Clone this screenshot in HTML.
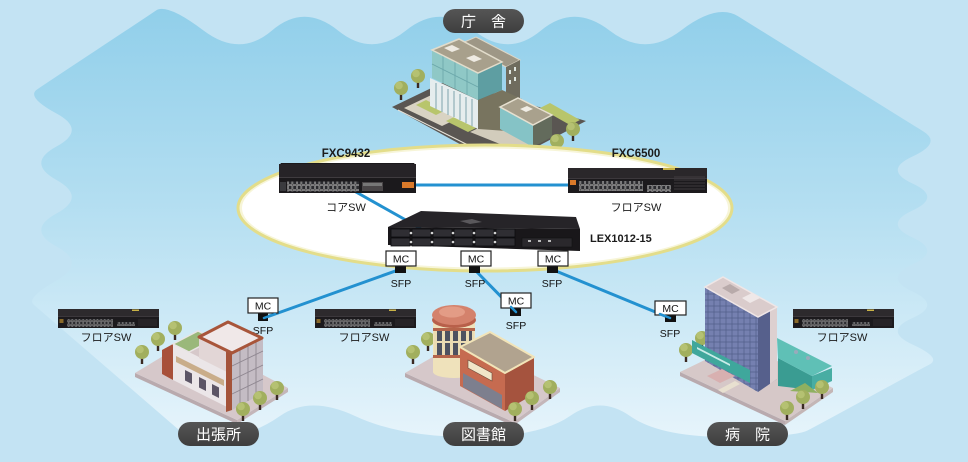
<!DOCTYPE html>
<html><head><meta charset="utf-8">
<style>
html,body{margin:0;padding:0;background:#c3e3f3;}
svg{display:block;}
text{font-family:"Liberation Sans","Noto Sans CJK JP",sans-serif;}
</style></head><body>
<svg width="968" height="462" viewBox="0 0 968 462" xmlns="http://www.w3.org/2000/svg">
<defs>
<linearGradient id="blob" x1="0" y1="0" x2="0" y2="1">
 <stop offset="0" stop-color="#91cfea"/>
 <stop offset="0.45" stop-color="#b3def1"/>
 <stop offset="1" stop-color="#e6f4fb"/>
</linearGradient>
<linearGradient id="pill" x1="0" y1="0" x2="0" y2="1">
 <stop offset="0" stop-color="#555"/>
 <stop offset="1" stop-color="#3e3e3e"/>
</linearGradient>
<pattern id="ports" width="4.5" height="5" patternUnits="userSpaceOnUse">
 <rect x="0.4" y="0.5" width="3.5" height="3.8" fill="#2b2b2f" stroke="#b5b5b5" stroke-width="0.6"/>
</pattern>
<pattern id="ports2" width="3.6" height="4" patternUnits="userSpaceOnUse">
 <rect x="0.3" y="0.4" width="2.8" height="3" fill="#2b2b2f" stroke="#9a9a9a" stroke-width="0.5"/>
</pattern>
<pattern id="grid1" width="6" height="6" patternUnits="userSpaceOnUse">
 <rect width="6" height="6" fill="none" stroke="#55608c" stroke-width="0.8"/>
</pattern>
<g id="tree"><rect x="-1.2" y="2" width="2.4" height="10" fill="#3b2a22"/><circle r="7" fill="#a1af5e"/><circle cx="-2" cy="-2.5" r="3.8" fill="#bac677" opacity="0.8"/></g>
<g id="fsw">
 <rect x="0" y="0" width="101" height="19" fill="#1c1a1d"/>
 <rect x="0" y="0" width="101" height="7" fill="#2d2a2d"/>
 <rect x="0" y="7" width="101" height="0.8" fill="#444044"/>
 <rect x="1.5" y="10" width="4" height="4" fill="#8a6a2a"/>
 <rect x="9" y="10" width="46" height="8" fill="url(#ports2)"/>
 <rect x="59" y="13" width="18" height="4" fill="url(#ports2)"/>
 <rect x="80" y="10" width="19" height="7" fill="#262326"/>
 <rect x="74" y="0.5" width="7" height="1.5" fill="#c9b347"/>
</g>
</defs>

<rect width="968" height="462" fill="#c3e3f3"/>
<path fill="url(#blob)" d="M156,10.5 Q167,3 203.5,30.5 Q240,58 272,30.5 Q304,3 338,30.5 Q372,58 406,30.5 Q440,3 474,30.5 Q508,58 541,30.5 Q574,3 609.5,30.5 Q645,58 681,30.5 Q717,3 738.5,16.5 Q760,30 832.5,75 Q905,120 923.5,131.5 Q942,143 912.5,156.5 Q883,170 912.5,183.5 Q942,197 912.5,210.5 Q883,224 912.5,237.5 Q942,251 912.5,264.5 Q883,278 912.5,291.5 Q942,305 912.5,318 Q883,331 912.5,344.5 Q942,358 929.5,364.5 Q917,371 868.5,397.5 Q820,424 807.5,430.5 Q795,437 727.5,437 Q660,437 630,416 Q600,395 570,416 Q540,437 470,437 Q400,437 355,416 Q310,395 280,416 Q250,437 218.5,437 Q187,437 179.5,430.5 Q172,424 106.5,367.5 Q41,311 33.5,304.5 Q26,298 56.5,280.5 Q87,263 56.5,246.5 Q26,230 56.5,213.5 Q87,197 56.5,180 Q26,163 56.5,146.5 Q87,130 56.5,113.5 Q26,97 37,89.5 Q48,82 96.5,50 Q145,18 156,10.5 Z"/>

<!-- 庁舎 building -->
<g>
 <polygon points="392,107 448,80 586,121 500,166" fill="#5a5652"/>
 <polygon points="404,108 444,89 482,107 442,126" fill="#d9d3c3"/>
 <polygon points="416,105 426,100 446,110 436,115" fill="#b8c56c"/>
 <polygon points="446,121 454,117 476,128 468,132" fill="#b8c56c"/>
 <polygon points="470,132 500,118 545,140 520,152" fill="#d2ccbc"/>
 <polygon points="540,108 550,103 580,120 570,125" fill="#b8c56c"/>
 <polyline points="398,110 440,131 470,146" fill="none" stroke="#e8e4da" stroke-width="1"/>
 <!-- back block -->
 <polygon points="462,43 476,37 520,60 506,67" fill="#9e9786" stroke="#ddd6c6" stroke-width="1"/>
 <polygon points="506,67 520,60 520,100 506,108" fill="#6f6c5e"/>
 <rect x="509" y="70" width="2" height="4" fill="#dfe6e0"/><rect x="514" y="67" width="2" height="4" fill="#dfe6e0"/>
 <rect x="509" y="80" width="2" height="4" fill="#dfe6e0"/><rect x="514" y="77" width="2" height="4" fill="#dfe6e0"/>
 <!-- lower white -->
 <polygon points="430,78 478,100 478,129 430,106" fill="#e6edee"/>
 <g stroke="#8fb0b7" stroke-width="1.2">
  <line x1="436" y1="83" x2="436" y2="109"/><line x1="442" y1="86" x2="442" y2="112"/><line x1="448" y1="89" x2="448" y2="115"/>
  <line x1="454" y1="91" x2="454" y2="117"/><line x1="460" y1="94" x2="460" y2="120"/><line x1="466" y1="97" x2="466" y2="123"/><line x1="472" y1="99" x2="472" y2="126"/>
 </g>
 <!-- connector -->
 <polygon points="478,100 502,90 522,99 522,132 478,129" fill="#78745f"/>
 <!-- glass tower -->
 <polygon points="432,50 478,73 478,100 432,78" fill="#8fc8c6"/>
 <g stroke="#6aa6a9" stroke-width="0.8">
  <line x1="443" y1="55" x2="443" y2="83"/><line x1="455" y1="61" x2="455" y2="89"/><line x1="467" y1="67" x2="467" y2="95"/>
  <line x1="432" y1="64" x2="478" y2="87"/>
 </g>
 <polygon points="478,73 502,62 502,90 478,100" fill="#5e9ea2"/>
 <polygon points="432,50 459,39 502,62 478,73" fill="#a8a08c" stroke="#e2dccb" stroke-width="1.5"/>
 <polygon points="444,48 452,45 460,49 452,52" fill="#eeeae2"/>
 <polygon points="466,58 474,55 482,59 474,62" fill="#eeeae2"/>
 <!-- annex -->
 <polygon points="500,107 533,125 533,147 500,129" fill="#85c3c6"/>
 <polygon points="533,125 552,115 552,137 533,147" fill="#636b5c"/>
 <polygon points="500,107 518,98 552,115 533,125" fill="#a9a18d" stroke="#e6e0d0" stroke-width="1.5"/>
 <polygon points="520,109 527,106 533,109 526,112" fill="#f0ede5"/>
 <use href="#tree" x="401" y="88"/>
 <use href="#tree" x="418" y="76"/>
 <use href="#tree" x="573" y="129"/>
 <use href="#tree" x="557" y="141"/>
</g>

<!-- ellipse -->
<ellipse cx="485" cy="208" rx="247" ry="63" fill="#f7f5d8" stroke="#e3dd8a" stroke-width="3"/>
<ellipse cx="485" cy="208" rx="243" ry="59.5" fill="#ffffff"/>

<!-- lines -->
<g stroke="#2391d0" stroke-width="3" stroke-linecap="round">
 <line x1="416" y1="185" x2="568" y2="185"/>
 <line x1="356" y1="192" x2="420" y2="228"/>
 <line x1="401" y1="269" x2="264" y2="318"/>
 <line x1="474" y1="269" x2="516" y2="312"/>
 <line x1="551" y1="269" x2="670" y2="318"/>
</g>

<!-- FXC9432 -->
<g>
 <polygon points="281,163 414,163 416,166 416,193 279,193 279,166" fill="#1b191c"/>
 <rect x="279" y="164" width="137" height="13" fill="#262327"/>
 <rect x="279" y="177" width="137" height="1" fill="#3f3b3f"/>
 <rect x="280" y="182" width="6" height="9" fill="#3a3a3e"/>
 <rect x="287" y="181.5" width="72" height="10" fill="url(#ports)"/>
 <rect x="362" y="182" width="21" height="9" fill="#4a4648"/>
 <rect x="363" y="183" width="19" height="3" fill="#777"/>
 <rect x="402" y="182" width="12" height="6" fill="#d9792a"/>
</g>
<text x="346" y="157" font-size="11.5" font-weight="bold" text-anchor="middle" fill="#1b1b1b">FXC9432</text>
<text x="346" y="211" font-size="11" text-anchor="middle" fill="#1b1b1b">コアSW</text>

<!-- FXC6500 -->
<g>
 <rect x="568" y="168" width="139" height="25" fill="#1c1a1d"/>
 <rect x="568" y="168" width="139" height="10" fill="#2a272a"/>
 <rect x="568" y="178" width="139" height="0.8" fill="#444044"/>
 <rect x="663" y="168" width="12" height="2" fill="#c9b347"/>
 <rect x="570" y="180" width="6" height="5" fill="#d9792a"/>
 <rect x="579" y="181" width="64" height="10" fill="url(#ports)"/>
 <rect x="647" y="185" width="24" height="7" fill="url(#ports)"/>
 <g stroke="#4a4649" stroke-width="0.8">
  <line x1="674" y1="177" x2="705" y2="177"/><line x1="674" y1="180" x2="705" y2="180"/><line x1="674" y1="183" x2="705" y2="183"/><line x1="674" y1="186" x2="705" y2="186"/><line x1="674" y1="189" x2="705" y2="189"/>
 </g>
</g>
<text x="636" y="157" font-size="11.5" font-weight="bold" text-anchor="middle" fill="#1b1b1b">FXC6500</text>
<text x="636" y="211" font-size="11" text-anchor="middle" fill="#1b1b1b">フロアSW</text>

<!-- LEX1012-15 -->
<g>
 <polygon points="388,227 421,211 576,217 580,229" fill="#262428"/>
 <polygon points="388,227 580,229 580,251 388,245" fill="#19171a"/>
 <polygon points="460,221 472,219 482,222 470,224" fill="#5a585c"/>
 <g fill="#2f2e33" stroke="#0c0c0e" stroke-width="0.8">
  <rect x="391" y="229" width="19" height="8"/><rect x="412" y="229" width="19" height="8"/><rect x="433" y="229" width="19" height="8"/><rect x="454" y="229" width="19" height="8"/><rect x="475" y="229" width="19" height="8"/><rect x="496" y="229" width="19" height="8"/>
  <rect x="391" y="238" width="19" height="8"/><rect x="412" y="238" width="19" height="8"/><rect x="433" y="238" width="19" height="8"/><rect x="454" y="238" width="19" height="8"/><rect x="475" y="238" width="19" height="8"/><rect x="496" y="238" width="19" height="8"/>
 </g>
 <g fill="#d5d5d5">
  <circle cx="411" cy="233" r="1.3"/><circle cx="432" cy="233" r="1.3"/><circle cx="453" cy="233" r="1.3"/><circle cx="474" cy="233" r="1.3"/><circle cx="495" cy="233" r="1.3"/>
  <circle cx="411" cy="242" r="1.3"/><circle cx="432" cy="242" r="1.3"/><circle cx="453" cy="242" r="1.3"/><circle cx="474" cy="242" r="1.3"/><circle cx="495" cy="242" r="1.3"/>
 </g>
 <rect x="522" y="238" width="50" height="9" fill="#2a282c" stroke="#111" stroke-width="0.6"/>
 <rect x="528" y="240" width="3" height="2" fill="#bbb"/><rect x="538" y="240" width="3" height="2" fill="#bbb"/><rect x="548" y="240" width="3" height="2" fill="#bbb"/>
</g>
<text x="590" y="242" font-size="11" font-weight="bold" fill="#1b1b1b">LEX1012-15</text>

<!-- MC boxes -->
<g font-size="10.5" text-anchor="middle" fill="#111">
 <rect x="395" y="266" width="11" height="7" fill="#111"/>
 <rect x="386" y="251" width="30" height="15" fill="#fff" stroke="#222" stroke-width="1.2"/>
 <text x="401" y="262.5">MC</text><text x="401" y="287">SFP</text>

 <rect x="469" y="266" width="11" height="7" fill="#111"/>
 <rect x="461" y="251" width="30" height="15" fill="#fff" stroke="#222" stroke-width="1.2"/>
 <text x="476" y="262.5">MC</text><text x="475" y="287">SFP</text>

 <rect x="547" y="266" width="11" height="7" fill="#111"/>
 <rect x="538" y="251" width="30" height="15" fill="#fff" stroke="#222" stroke-width="1.2"/>
 <text x="553" y="262.5">MC</text><text x="552" y="287">SFP</text>

 <rect x="258" y="313" width="10" height="8" fill="#111"/>
 <rect x="248" y="298" width="30" height="15" fill="#fff" stroke="#222" stroke-width="1.2"/>
 <text x="263" y="309.5">MC</text><text x="263" y="334">SFP</text>

 <rect x="510" y="308" width="11" height="8" fill="#111"/>
 <rect x="501" y="293" width="30" height="15" fill="#fff" stroke="#222" stroke-width="1.2"/>
 <text x="516" y="304.5">MC</text><text x="516" y="329">SFP</text>

 <rect x="665" y="315" width="11" height="7" fill="#111"/>
 <rect x="655" y="301" width="31" height="14" fill="#fff" stroke="#222" stroke-width="1.2"/>
 <text x="670.5" y="312">MC</text><text x="670" y="337">SFP</text>
</g>
<g stroke="#2391d0" stroke-width="2.5" stroke-linecap="round">
 <line x1="275" y1="314" x2="264" y2="318"/>
 <line x1="511" y1="307" x2="516" y2="312"/>
 <line x1="660" y1="314" x2="670" y2="318"/>
</g>

<!-- floor switches -->
<use href="#fsw" x="58" y="309"/>
<use href="#fsw" x="315" y="309"/>
<use href="#fsw" x="793" y="309"/>
<g font-size="11" text-anchor="middle" fill="#1b1b1b">
 <text x="106" y="341">フロアSW</text>
 <text x="364" y="341">フロアSW</text>
 <text x="842" y="341">フロアSW</text>
</g>

<!-- 出張所 building -->
<g>
 <polygon points="135,373 237,420 237,424 135,377" fill="#b9aaae"/>
 <polygon points="237,420 288,388 288,392 237,424" fill="#c4b6b9"/>
 <polygon points="135,373 193,338 288,388 237,420" fill="#d6c8ca"/>
 <use href="#tree" x="142" y="352"/>
 <use href="#tree" x="158" y="339"/>
 <use href="#tree" x="175" y="328"/>
 <polygon points="173,344 227,371 227,407 173,380" fill="#ebe6e8"/>
 <polygon points="162,350 173,344 173,380 162,374" fill="#a8503a"/>
 <polygon points="176,356 224,380 224,386 176,362" fill="#c9ad8a"/>
 <polygon points="185,370 192,373.5 192,384 185,380.5" fill="#5c5566"/>
 <polygon points="199,377 206,380.5 206,391 199,387.5" fill="#5c5566"/>
 <polygon points="212,384 219,387.5 219,398 212,394.5" fill="#5c5566"/>
 <polygon points="173,344 198,331 214,339 189,352" fill="#9ab87a" stroke="#e8e4e4" stroke-width="1.5"/>
 <polygon points="199,337 227,352 227,372 199,358" fill="#e2d6d6"/>
 <polygon points="232,352 263,337 263,393 232,410" fill="#c4bcc4"/>
 <g stroke="#8e8690" stroke-width="0.9">
  <line x1="240" y1="348" x2="240" y2="406"/><line x1="248" y1="344" x2="248" y2="401"/><line x1="256" y1="340" x2="256" y2="397"/>
  <line x1="232" y1="366" x2="263" y2="351"/><line x1="232" y1="380" x2="263" y2="365"/><line x1="232" y1="394" x2="263" y2="379"/>
 </g>
 <polygon points="226,352 232,349 232,410 226,412" fill="#a4533a"/>
 <polygon points="199,337 228,322 262,338 232,353" fill="#f0e8e8" stroke="#a8553a" stroke-width="3" stroke-linejoin="round"/>
 <use href="#tree" x="277" y="388"/>
 <use href="#tree" x="260" y="398"/>
 <use href="#tree" x="243" y="409"/>
</g>

<!-- 図書館 building -->
<g>
 <polygon points="405,373 513,422 513,426 405,377" fill="#b9aaae"/>
 <polygon points="513,422 560,388 560,392 513,426" fill="#c4b6b9"/>
 <polygon points="405,373 462,340 560,388 513,422" fill="#d6c8ca"/>
 <use href="#tree" x="413" y="352"/>
 <use href="#tree" x="428" y="339"/>
 <path d="M433,318 L433,372 A21,6 0 0 0 475,372 L475,318 Z" fill="#efe2bb"/>
 <rect x="434" y="331" width="40" height="24" fill="#4e5260"/>
 <g fill="#ebdcb3">
  <rect x="434" y="331" width="3" height="24"/><rect x="442" y="331" width="3" height="24"/><rect x="450" y="331" width="3" height="24"/><rect x="458" y="331" width="3" height="24"/><rect x="466" y="331" width="3" height="24"/><rect x="472" y="331" width="2" height="24"/>
  <rect x="434" y="341" width="40" height="2"/>
 </g>
 <rect x="433" y="328" width="42" height="3" fill="#b5644a"/>
 <rect x="433" y="355" width="42" height="3" fill="#b5644a"/>
 <ellipse cx="454" cy="320" rx="22" ry="8" fill="#b8604a"/>
 <ellipse cx="454" cy="315" rx="22" ry="10" fill="#d4826c"/>
 <ellipse cx="452" cy="312" rx="13" ry="5.5" fill="#e39c86"/>
 <polygon points="460,347 505,373 505,411 460,386" fill="#c66b50"/>
 <polygon points="505,373 534,357 534,394 505,411" fill="#a5533e"/>
 <polygon points="463,373 502,395 502,409 463,387" fill="#7d7f8e"/>
 <polygon points="468,360 492,373 492,381 468,368" fill="#f1e6c8" stroke="#6b4a3a" stroke-width="0.6"/>
 <polygon points="460,347 490,332 534,357 505,373" fill="#b1a38f" stroke="#f2e4b8" stroke-width="2" stroke-linejoin="round"/>
 <use href="#tree" x="550" y="387"/>
 <use href="#tree" x="532" y="398"/>
 <use href="#tree" x="515" y="409"/>
</g>

<!-- 病院 building -->
<g>
 <polygon points="680,372 785,421 785,425 680,376" fill="#b9aaae"/>
 <polygon points="785,421 833,388 833,392 785,425" fill="#c4b6b6"/>
 <polygon points="680,372 740,343 833,388 785,421" fill="#d6c8c8"/>
 <use href="#tree" x="702" y="338"/>
 <use href="#tree" x="686" y="350"/>
 <!-- annex -->
 <polygon points="778,358 812,376 812,390 778,386" fill="#3a9c92"/>
 <polygon points="812,376 832,368 832,381 812,390" fill="#48ada3"/>
 <polygon points="777,338 832,366 812,376 778,358" fill="#5fc0b6"/>
 <circle cx="796" cy="352" r="2" fill="#9ab"/><circle cx="808" cy="358" r="2" fill="#9ab"/>
 <polygon points="790,391 805,383 818,393" fill="#8fb060"/>
 <!-- tower -->
 <polygon points="705,287 758,317 758,392 705,361" fill="#7580b0"/>
 <polygon points="705,287 758,317 758,392 705,361" fill="url(#grid1)"/>
 <polygon points="758,317 777,307 777,379 758,392" fill="#56608c"/>
 <polygon points="770,311 777,307 777,379 770,384" fill="#ddd0d0"/>
 <polygon points="705,287 723,277 777,307 758,317" fill="#dacccc" stroke="#efe6e6" stroke-width="1.5"/>
 <polygon points="722,288 730,284 740,290 732,294" fill="#b8aaaa"/>
 <polygon points="742,298 752,293 760,298 750,303" fill="#efe8e8"/>
 <!-- sign -->
 <polygon points="692,340 750,370 750,383 692,353" fill="#3fa79c"/>
 <polygon points="697,347 730,364 730,366 697,349" fill="#c9ece8"/>
 <polygon points="707,376 722,369 735,376 720,383" fill="#d8b0b0"/>
 <polygon points="718,390 735,381 740,384 723,393" fill="#e8e0d0"/>
 <use href="#tree" x="822" y="387"/>
 <use href="#tree" x="803" y="397"/>
 <use href="#tree" x="787" y="408"/>
</g>

<!-- label pills -->
<g fill="url(#pill)">
 <rect x="443" y="9" width="81" height="24" rx="12"/>
 <rect x="178" y="422" width="81" height="24" rx="12"/>
 <rect x="443" y="422" width="81" height="24" rx="12"/>
 <rect x="707" y="422" width="81" height="24" rx="12"/>
</g>
<g font-size="15" fill="#ffffff" text-anchor="middle">
 <text x="483.5" y="26.5">庁　舎</text>
 <text x="218.5" y="439.5">出張所</text>
 <text x="483.5" y="439.5">図書館</text>
 <text x="747.5" y="439.5">病　院</text>
</g>
</svg>
</body></html>
